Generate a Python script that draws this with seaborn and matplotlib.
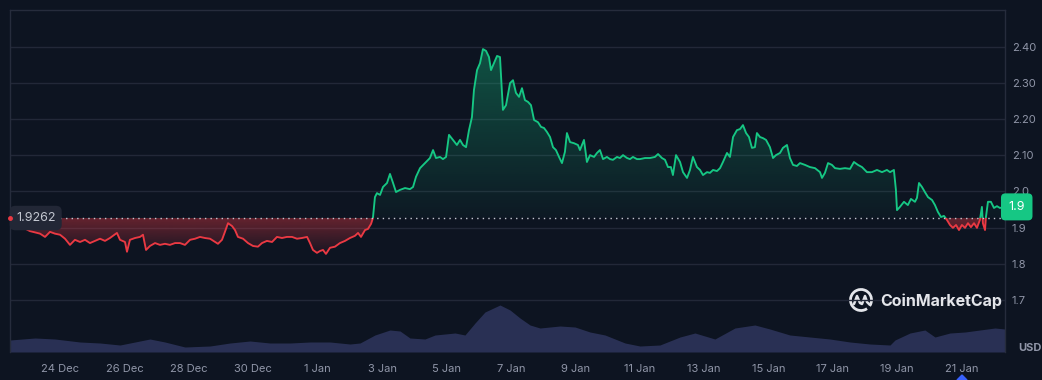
import matplotlib
matplotlib.use("Agg")

import numpy as np
import pandas as pd
import matplotlib.pyplot as plt
import matplotlib.dates as mdates
import seaborn as sns
from matplotlib.patches import Rectangle, Arc, Polygon
from matplotlib.lines import Line2D
from matplotlib.transforms import IdentityTransform

# --- data ------------------------------------------------------------------
START = pd.Timestamp("2024-12-22 10:40")
OPEN_PRICE = 1.9262
LAST_LABEL = "1.9"

# hours since START / price in USD
price_hours = [
    0, 7.5, 14.9, 20.1, 22.4, 26.1, 29.8, 33.5, 37.3, 41.0,
    44.7, 48.4, 52.2, 55.9, 59.6, 63.4, 67.1, 70.8, 74.5, 79.7,
    82.0, 85.7, 87.2, 89.4, 93.2, 96.9, 99.1, 101.4, 104.3, 108.1,
    111.8, 115.5, 119.2, 123.0, 126.7, 130.4, 134.2, 137.9, 141.6, 145.3,
    149.1, 152.8, 155.0, 158.0, 160.2, 162.5, 165.5, 167.7, 169.9, 173.7,
    177.4, 181.1, 184.8, 187.8, 191.5, 195.3, 199.0, 202.7, 206.4, 210.2,
    213.9, 217.6, 221.4, 223.6, 225.8, 228.8, 231.0, 233.3, 235.5, 238.5,
    242.2, 245.9, 249.7, 253.4, 257.1, 259.4, 261.6, 264.6, 266.8, 269.1,
    270.5, 272.0, 273.5, 275.8, 278.0, 281.0, 283.2, 285.5, 287.7, 290.7,
    294.4, 298.1, 300.4, 302.6, 305.6, 309.3, 313.0, 315.3, 317.5, 320.5,
    322.7, 325.0, 327.2, 330.2, 333.1, 335.4, 337.6, 339.9, 342.1, 344.3,
    345.8, 348.1, 350.3, 352.5, 354.8, 357.0, 358.5, 360.7, 363.0, 365.2,
    367.4, 369.7, 372.7, 374.9, 377.1, 379.4, 381.6, 383.8, 386.1, 388.3,
    390.6, 393.5, 395.8, 398.0, 400.2, 402.5, 404.7, 406.9, 409.2, 411.4,
    413.6, 415.1, 417.4, 420.3, 423.3, 424.8, 427.8, 430.0, 432.3, 435.3,
    437.5, 439.7, 442.0, 444.9, 447.2, 449.4, 452.4, 454.6, 456.9, 459.9,
    462.1, 464.3, 467.3, 469.5, 473.3, 477.0, 480.7, 483.0, 485.9, 488.2,
    490.4, 492.6, 494.1, 496.4, 499.4, 501.6, 504.6, 506.8, 509.0, 512.0,
    514.3, 516.5, 519.5, 521.7, 524.0, 526.9, 529.2, 531.4, 534.4, 536.6,
    538.9, 541.8, 544.1, 546.3, 548.6, 550.8, 553.0, 555.2, 556.7, 559.0,
    561.2, 563.5, 566.4, 568.7, 570.9, 573.9, 576.1, 579.1, 581.3, 583.6,
    586.5, 588.8, 592.5, 596.2, 600.0, 603.7, 605.2, 607.4, 609.7, 612.6,
    614.9, 618.6, 622.3, 626.1, 629.0, 632.0, 635.0, 638.7, 642.4, 646.2,
    649.9, 653.6, 655.9, 658.8, 660.3, 661.1, 663.3, 666.3, 669.2, 671.5,
    674.5, 676.0, 677.5, 679.7, 681.9, 684.2, 687.2, 689.4, 691.6, 693.9,
    696.1, 698.3, 700.6, 702.8, 705.1, 707.3, 709.5, 711.8, 714.0, 716.2,
    718.5, 720.7, 722.9, 724.4, 725.1, 726.7, 727.4, 728.9, 731.1, 733.4,
    735.6, 737.8, 741.6,
]
price_usd = [
    1.926, 1.904, 1.890, 1.885, 1.883, 1.874, 1.888, 1.883, 1.880, 1.869,
    1.852, 1.866, 1.860, 1.866, 1.857, 1.863, 1.869, 1.863, 1.871, 1.885,
    1.866, 1.860, 1.833, 1.866, 1.871, 1.874, 1.880, 1.838, 1.849, 1.857,
    1.852, 1.855, 1.852, 1.857, 1.857, 1.852, 1.866, 1.869, 1.874, 1.871,
    1.869, 1.860, 1.855, 1.866, 1.888, 1.912, 1.904, 1.893, 1.874, 1.869,
    1.857, 1.849, 1.847, 1.857, 1.863, 1.860, 1.874, 1.871, 1.874, 1.874,
    1.869, 1.871, 1.874, 1.857, 1.838, 1.830, 1.835, 1.838, 1.827, 1.844,
    1.847, 1.857, 1.863, 1.871, 1.877, 1.885, 1.874, 1.893, 1.896, 1.910,
    1.926, 1.984, 1.995, 1.990, 2.012, 2.023, 2.048, 2.023, 1.998, 2.004,
    2.009, 2.006, 2.012, 2.040, 2.064, 2.078, 2.092, 2.114, 2.092, 2.095,
    2.089, 2.095, 2.156, 2.142, 2.128, 2.142, 2.128, 2.122, 2.169, 2.205,
    2.280, 2.335, 2.354, 2.393, 2.388, 2.371, 2.335, 2.354, 2.374, 2.371,
    2.225, 2.238, 2.299, 2.307, 2.272, 2.261, 2.285, 2.252, 2.247, 2.238,
    2.197, 2.191, 2.178, 2.175, 2.164, 2.150, 2.122, 2.114, 2.095, 2.078,
    2.109, 2.161, 2.136, 2.133, 2.128, 2.114, 2.142, 2.081, 2.100, 2.095,
    2.106, 2.114, 2.089, 2.095, 2.089, 2.087, 2.095, 2.092, 2.100, 2.092,
    2.089, 2.095, 2.089, 2.089, 2.092, 2.092, 2.095, 2.103, 2.092, 2.087,
    2.067, 2.067, 2.045, 2.100, 2.081, 2.053, 2.037, 2.059, 2.095, 2.067,
    2.059, 2.045, 2.053, 2.051, 2.059, 2.056, 2.064, 2.081, 2.106, 2.095,
    2.150, 2.169, 2.172, 2.183, 2.161, 2.150, 2.120, 2.122, 2.161, 2.150,
    2.147, 2.142, 2.122, 2.092, 2.100, 2.106, 2.120, 2.128, 2.092, 2.073,
    2.070, 2.078, 2.073, 2.067, 2.064, 2.053, 2.037, 2.051, 2.078, 2.073,
    2.064, 2.062, 2.064, 2.062, 2.081, 2.073, 2.067, 2.053, 2.053, 2.059,
    2.053, 2.059, 2.053, 2.059, 2.004, 1.948, 1.957, 1.971, 1.962, 1.979,
    1.971, 1.982, 2.023, 2.012, 1.998, 1.984, 1.976, 1.962, 1.943, 1.929,
    1.932, 1.921, 1.907, 1.899, 1.907, 1.893, 1.907, 1.899, 1.912, 1.901,
    1.912, 1.899, 1.921, 1.957, 1.912, 1.893, 1.929, 1.971, 1.971, 1.954,
    1.959, 1.954, 1.957,
]

# volume (relative, millions)
vol_hours = [
    0, 18.6, 33.5, 52.2, 67.1, 82.0, 93.2, 104.3, 115.5, 130.4,
    149.1, 164.0, 178.9, 193.8, 208.7, 223.6, 238.5, 253.4, 260.9, 272.0,
    283.2, 290.7, 298.1, 309.3, 316.8, 331.7, 339.1, 346.6, 354.0, 365.2,
    372.7, 380.1, 387.6, 395.0, 409.9, 421.1, 432.3, 443.5, 458.4, 469.5,
    484.4, 499.4, 510.5, 525.4, 540.3, 555.2, 566.4, 581.3, 596.2, 611.1,
    626.1, 641.0, 655.9, 659.6, 670.8, 681.9, 689.4, 700.6, 711.8, 722.9,
    734.1, 741.6,
]
vol_musd = [
    12, 14, 13, 10, 9, 7, 10, 13, 10, 5,
    6, 9, 11, 9, 9, 10, 10, 8, 9, 17,
    22, 21, 14, 13, 17, 19, 17, 29, 40, 47,
    42, 34, 27, 24, 26, 25, 20, 17, 9, 6,
    7, 15, 19, 13, 24, 27, 23, 17, 15, 13,
    10, 8, 7, 12, 19, 22, 15, 19, 20, 22,
    24, 23,
]

y_ticks = [1.7, 1.8, 1.9, 2.0, 2.1, 2.2, 2.3, 2.4]
y_tick_labels = ["1.7", "1.8", "1.9", "2.0", "2.10", "2.20", "2.30", "2.40"]
x_tick_dates = pd.date_range("2024-12-24", "2025-01-21", freq="2D")

# --- colours ---------------------------------------------------------------
BG = "#0d1421"
GRID = "#222838"
SPINE = "#262c3c"
GREEN = "#16c784"
RED = "#ea3943"
TXT = "#9096a8"
VOL = "#293054"

sns.set_theme(style="dark")
plt.rcParams["font.family"] = ["Inter", "DejaVu Sans"]

df = pd.DataFrame({
    "time": START + pd.to_timedelta(price_hours, unit="h"),
    "price": price_usd,
})
vol = pd.DataFrame({
    "time": START + pd.to_timedelta(vol_hours, unit="h"),
    "volume": vol_musd,
})

fig = plt.figure(figsize=(10.42, 3.80), dpi=100, facecolor=BG)
ax = fig.add_axes([10 / 1042, 28 / 380, 995 / 1042, 342 / 380])
axv = ax.twinx()
axv.set_zorder(1)
ax.set_zorder(2)
ax.patch.set_visible(False)
axv.set_facecolor(BG)

t0, t1 = df["time"].iloc[0], df["time"].iloc[-1]
ylo, yhi = 1.556, 2.501

# volume
axv.fill_between(vol["time"], vol["volume"], 0, color=VOL, lw=0)
axv.set_ylim(0, 342)
axv.set_yticks([])
for s in axv.spines.values():
    s.set_visible(False)

# gradient fills
xn = mdates.date2num(df["time"])
p = np.asarray(price_usd)
grad = np.linspace(0, 1, 256).reshape(-1, 1)


def gradient_fill(rgb, a0, a1, y0, y1, upper, lower):
    img = np.zeros((256, 1, 4))
    img[..., :3] = matplotlib.colors.to_rgb(rgb)
    img[..., 3] = a0 + (a1 - a0) * grad
    im = ax.imshow(img, extent=[xn[0], xn[-1], y0, y1], origin="lower",
                   aspect="auto", zorder=1, interpolation="bilinear")
    poly = ax.fill_between(xn, upper, lower, color="none", lw=0)
    im.set_clip_path(poly.get_paths()[0], transform=ax.transData)


gradient_fill(GREEN, 0.03, 0.35, OPEN_PRICE, p.max(), np.maximum(p, OPEN_PRICE), OPEN_PRICE)
gradient_fill(RED, 0.05, 0.40, p.min(), OPEN_PRICE, OPEN_PRICE, np.minimum(p, OPEN_PRICE))

# price line, green above the open price and red below it
sns.lineplot(data=df, x="time", y="price", ax=ax, color=GREEN, lw=1.35, zorder=3)
ax.lines[-1].set_clip_path(Rectangle((0, OPEN_PRICE), 1, 5, transform=ax.get_yaxis_transform()))
sns.lineplot(data=df, x="time", y="price", ax=ax, color=RED, lw=1.35, zorder=3)
ax.lines[-1].set_clip_path(Rectangle((0, OPEN_PRICE - 5), 1, 5, transform=ax.get_yaxis_transform()))

ax.axhline(OPEN_PRICE, color="#c5c9d3", ls=(0, (1, 3)), lw=1, zorder=4)

ax.set_xlim(t0, t1)
ax.set_ylim(ylo, yhi)
ax.set_xlabel("")
ax.set_ylabel("")

# axes styling
ax.yaxis.tick_right()
ax.set_yticks(y_ticks, y_tick_labels)
ax.set_xticks(x_tick_dates)
ax.xaxis.set_major_formatter(mdates.DateFormatter("%-d %b"))
ax.tick_params(axis="y", length=0, pad=5, labelsize=8, labelcolor=TXT)
ax.tick_params(axis="x", length=0, pad=9, labelsize=8, labelcolor=TXT)
ax.grid(axis="y", color=GRID, lw=1)
ax.grid(axis="x", visible=False)
for side in ("left", "top", "right"):
    ax.spines[side].set_visible(True)
    ax.spines[side].set_color(SPINE)
    ax.spines[side].set_linewidth(1)
ax.spines["bottom"].set_visible(False)

# open-price label and marker
ax.text(0.006, OPEN_PRICE, "1.9262", transform=ax.get_yaxis_transform(),
        ha="left", va="center", fontsize=9, color="#c3c7d1", zorder=10,
        bbox=dict(boxstyle="round,pad=0.5,rounding_size=0.45", fc="#222736", ec="none"))
ax.plot([t0], [OPEN_PRICE], "o", ms=2.5, color=RED, zorder=11, clip_on=False)

# last price tag
ax.text(1.0035, price_usd[-1], LAST_LABEL, transform=ax.get_yaxis_transform(),
        ha="left", va="center", fontsize=9, color="white", zorder=10, clip_on=False,
        bbox=dict(boxstyle="round,pad=0.6,rounding_size=0.35", fc=GREEN, ec="none"))

fig.text(1018 / 1042, 32 / 380, "USD", color=TXT, fontsize=8, fontweight="bold", va="center")

# watermark
fig.text(880 / 1042, 79 / 380, "CoinMarketCap", color="#e3e5ea", fontsize=11.5,
         fontweight="bold", va="center", ha="left")
fig.add_artist(Arc((861, 80), 21, 21, theta1=-35, theta2=305, lw=2.0,
                   color="#e3e5ea", transform=IdentityTransform()))
fig.add_artist(Line2D([854, 857, 860, 862, 865, 867, 869],
                      [76, 84, 77, 76, 84, 78, 76], lw=1.8, color="#e3e5ea",
                      transform=IdentityTransform(), solid_capstyle="round"))

# little marker under the last date label
fig.add_artist(Polygon([[957, 0], [967, 0], [962, 5]], closed=True, color="#3861fb",
                       transform=IdentityTransform()))

fig.savefig("out.png", dpi=100, facecolor=BG)
